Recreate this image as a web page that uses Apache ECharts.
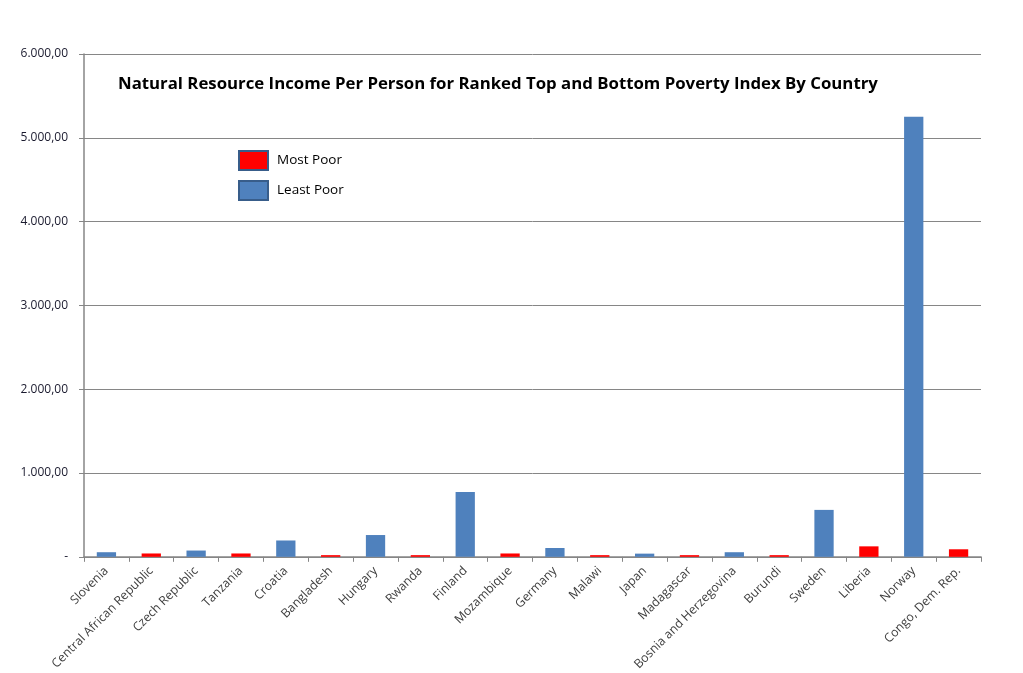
<!DOCTYPE html>
<html>
<head>
<meta charset="utf-8">
<script src="https://cdn.jsdelivr.net/npm/echarts@6/dist/echarts.min.js"></script>
<style>
  html, body { margin: 0; padding: 0; background: #fff; }
  #chart { width: 1023px; height: 673px; }
</style>
</head>
<body>
<div id="chart"></div>
<script>
  var countries = ["Slovenia", "Central African Republic", "Czech Republic", "Tanzania", "Croatia",
    "Bangladesh", "Hungary", "Rwanda", "Finland", "Mozambique", "Germany", "Malawi", "Japan",
    "Madagascar", "Bosnia and Herzegovina", "Burundi", "Sweden", "Liberia", "Norway", "Congo, Dem. Rep."];
  // '-' = country not in that group
  var mostPoor = ['-', 40, '-', 40, '-', 20, '-', 20, '-', 40, '-', 20, '-', 20, '-', 20, '-', 125, '-', 90];
  var leastPoor = [55, '-', 75, '-', 195, '-', 260, '-', 775, '-', 105, '-', 38, '-', 55, '-', 560, '-', 5250, '-'];

  var font = "'Open Sans', 'Noto Sans', sans-serif";
  var chart = echarts.init(document.getElementById('chart'));

  var option = {
    backgroundColor: '#fff',
    animation: false,
    title: {
      text: 'Natural Resource Income Per Person for Ranked Top and Bottom Poverty Index By Country',
      left: 113,
      top: 71,
      textStyle: { fontFamily: font, fontSize: 16.8, fontWeight: 'bold', color: '#000' }
    },
    legend: {
      orient: 'vertical',
      left: 238,
      top: 150,
      padding: 0,
      itemWidth: 29,
      itemHeight: 19,
      itemGap: 9,
      icon: 'rect',
      itemStyle: { borderColor: '#385d8a', borderWidth: 2 },
      textStyle: { fontFamily: font, fontSize: 13.5, color: '#000', padding: [0, 0, 0, 4] },
      data: ['Most Poor', 'Least Poor']
    },
    grid: { left: 84, right: 42, top: 54, bottom: 116, containLabel: false },
    xAxis: {
      type: 'category',
      data: countries,
      axisLine: { lineStyle: { color: '#868686', width: 1.5 } },
      axisTick: { show: true, length: 5, inside: false, lineStyle: { color: '#868686' } },
      axisLabel: {
        interval: 0,
        rotate: 45,
        margin: 12,
        fontFamily: font,
        fontSize: 12.3,
        color: '#404040'
      }
    },
    yAxis: {
      type: 'value',
      min: 0,
      max: 6000,
      interval: 1000,
      axisLine: { show: true, lineStyle: { color: '#868686', width: 1.5 } },
      axisTick: { show: true, length: 5, lineStyle: { color: '#868686' } },
      splitLine: { lineStyle: { color: '#868686', width: 1 } },
      axisLabel: {
        margin: 16,
        fontFamily: font,
        fontSize: 12,
        color: '#1a1a2e',
        formatter: function (v) {
          if (v === 0) return '-';
          return v.toLocaleString('de-DE', { minimumFractionDigits: 2, maximumFractionDigits: 2 });
        }
      }
    },
    series: [
      {
        name: 'Most Poor',
        type: 'bar',
        stack: 'total',
        barWidth: '43%',
        itemStyle: { color: '#ff0000' },
        data: mostPoor
      },
      {
        name: 'Least Poor',
        type: 'bar',
        stack: 'total',
        barWidth: '43%',
        itemStyle: { color: '#4f81bd' },
        data: leastPoor
      }
    ]
  };

  chart.setOption(option);
</script>
</body>
</html>
